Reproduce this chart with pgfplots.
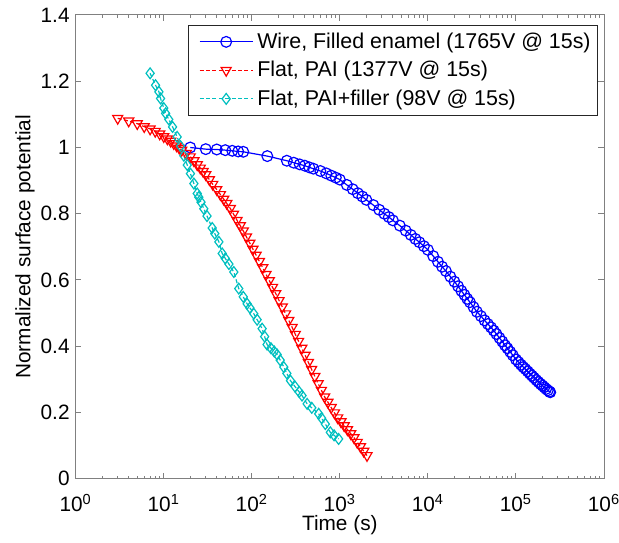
\documentclass[border=0pt]{standalone}
\usepackage{pgfplots}
\usepackage{pgfplotstable}
\pgfplotsset{compat=1.18}
\usepackage{fontspec}
\setmainfont{Liberation Sans}
\definecolor{mycyan}{rgb}{0,0.75,0.75}

\pgfplotstableread{
t v
20 1.000
30 0.995
40 0.994
50 0.992
60 0.990
70 0.988
80 0.987
150 0.974
250 0.960
300 0.954
350 0.949
400 0.945
450 0.940
500 0.936
600 0.929
700 0.922
800 0.915
900 0.909
1000 0.903
1200 0.887
1400 0.874
1600 0.862
1800 0.852
2000 0.842
2400 0.826
2800 0.812
3200 0.800
3600 0.790
4000 0.780
4800 0.764
5600 0.749
6400 0.736
7200 0.724
8000 0.714
9000 0.702
10000 0.691
11500 0.672
13000 0.655
14500 0.640
16000 0.627
18000 0.610
20000 0.595
22000 0.581
24000 0.567
26000 0.555
28000 0.543
30000 0.533
33000 0.518
36000 0.504
40000 0.491
44000 0.478
48000 0.467
52000 0.457
56000 0.447
60000 0.437
65000 0.425
70000 0.414
75000 0.403
80000 0.394
86000 0.383
92000 0.373
100000 0.360
107000 0.352
114000 0.344
121000 0.337
128000 0.331
136000 0.324
144000 0.317
152000 0.311
160000 0.305
170000 0.298
180000 0.292
190000 0.286
200000 0.281
210000 0.276
220000 0.271
230000 0.267
240000 0.263
245000 0.261
}\wire

\pgfplotstableread{
t v
3 1.088
4 1.080
5 1.072
6 1.063
7 1.056
8 1.049
9 1.041
10 1.033
11 1.026
12 1.019
13 1.012
14 1.005
15 0.998
16 0.992
18 0.982
20 0.972
22 0.960
24 0.948
26 0.938
28 0.928
30 0.918
33 0.903
36 0.889
40 0.873
44 0.858
48 0.844
52 0.831
57 0.816
62 0.799
68 0.780
74 0.764
80 0.748
87 0.730
95 0.711
103 0.693
112 0.675
122 0.656
133 0.637
145 0.617
158 0.598
172 0.578
187 0.559
204 0.538
222 0.519
242 0.498
263 0.478
287 0.457
312 0.436
340 0.415
370 0.394
403 0.373
439 0.351
478 0.330
520 0.309
567 0.287
617 0.267
672 0.247
732 0.231
797 0.215
868 0.199
945 0.184
1029 0.172
1120 0.160
1220 0.148
1328 0.136
1446 0.124
1575 0.110
1715 0.097
1868 0.083
2034 0.070
}\flat

\pgfplotstableread{
t v
7.0 1.224
8.07 1.188
8.81 1.168
9.20 1.148
10.0 1.119
10.5 1.103
11.4 1.085
12.6 1.062
14.2 1.032
15.5 1.004
16.9 0.975
18.5 0.947
20.1 0.921
22.0 0.891
24.0 0.861
25.0 0.850
26.5 0.835
28.5 0.815
31.0 0.793
35.5 0.757
38.0 0.740
42.3 0.715
46.1 0.680
50 0.665
55 0.648
62.5 0.624
71.1 0.574
80 0.549
88.5 0.528
95 0.516
105.4 0.498
115 0.480
131 0.453
140 0.429
149 0.405
165 0.394
180 0.384
194 0.375
210 0.358
231 0.337
250 0.318
275 0.296
310 0.278
345 0.262
372 0.251
425 0.226
480 0.214
575 0.196
620 0.183
684 0.165
780 0.140
860 0.131
968 0.120
}\filler

\begin{document}
\begin{tikzpicture}[font=\fontsize{10.4}{12.5}\selectfont]
\begin{axis}[
  name=ax,
  scale only axis,
  width=264.15pt, height=231.85pt,
  xmode=log,
  xmin=1, xmax=1e6,
  ymin=0, ymax=1.4,
  xtick={1,10,100,1000,10000,100000,1000000},
  xticklabels={10\textsuperscript{0},10\textsuperscript{1},10\textsuperscript{2},10\textsuperscript{3},10\textsuperscript{4},10\textsuperscript{5},10\textsuperscript{6}},
  ytick={0,0.2,0.4,0.6,0.8,1,1.2,1.4},
  /pgf/number format/assume math mode=true,
  axis line style={black!50, line width=0.5pt},
  tick style={black!50, line width=0.5pt},
  major tick length=2.8pt,
  minor tick length=1.6pt,
  xticklabel style={anchor=base, yshift=-16.5pt},
  yticklabel style={inner sep=0pt, anchor=east, xshift=-2.85pt},
  xlabel={Time (s)},
  ylabel={Normalized surface potential},
  xlabel style={at={(axis description cs:0.5,-0.1126)}, anchor=base},
  ylabel style={at={(axis description cs:-0.096,0.5)}, anchor=center},
  legend cell align=left,
  legend image code/.code={\path (0pt,0pt); \draw[mark repeat=2,mark phase=2,#1] plot coordinates {(4pt,0pt) (17.25pt,0pt) (30.5pt,0pt)};},
  legend style={
    at={(rel axis cs:0.9887,0.978)}, anchor=north east,
    draw=black!85, fill=white,
    font=\fontsize{10.7}{12.5}\selectfont,
    inner xsep=1.5pt, inner ysep=1pt,
    row sep=0pt,
    nodes={inner xsep=2pt, inner ysep=2.5pt},
  },
]
\addplot[blue, line width=0.6pt, mark=o, mark size=2.7pt] table {\wire};
\addlegendentry{Wire, Filled enamel (1765V @ 15s)}
\addplot[red, line width=0.6pt, dash pattern=on 2pt off 1.2pt, mark=triangle, mark size=2.9pt, mark options={solid, rotate=180}] table {\flat};
\addlegendentry{Flat, PAI (1377V @ 15s)}
\addplot[mycyan, line width=0.6pt, dash pattern=on 2pt off 1.2pt, mark=diamond, mark size=2.7pt, mark options={solid}] table {\filler};
\addlegendentry{Flat, PAI+filler (98V @ 15s)}
\end{axis}
\pgfresetboundingbox
\path[use as bounding box] ([xshift=-37.85pt,yshift=-31.65pt]ax.south west) rectangle ([xshift=7.5pt,yshift=7.5pt]ax.north east);
\end{tikzpicture}
\end{document}
